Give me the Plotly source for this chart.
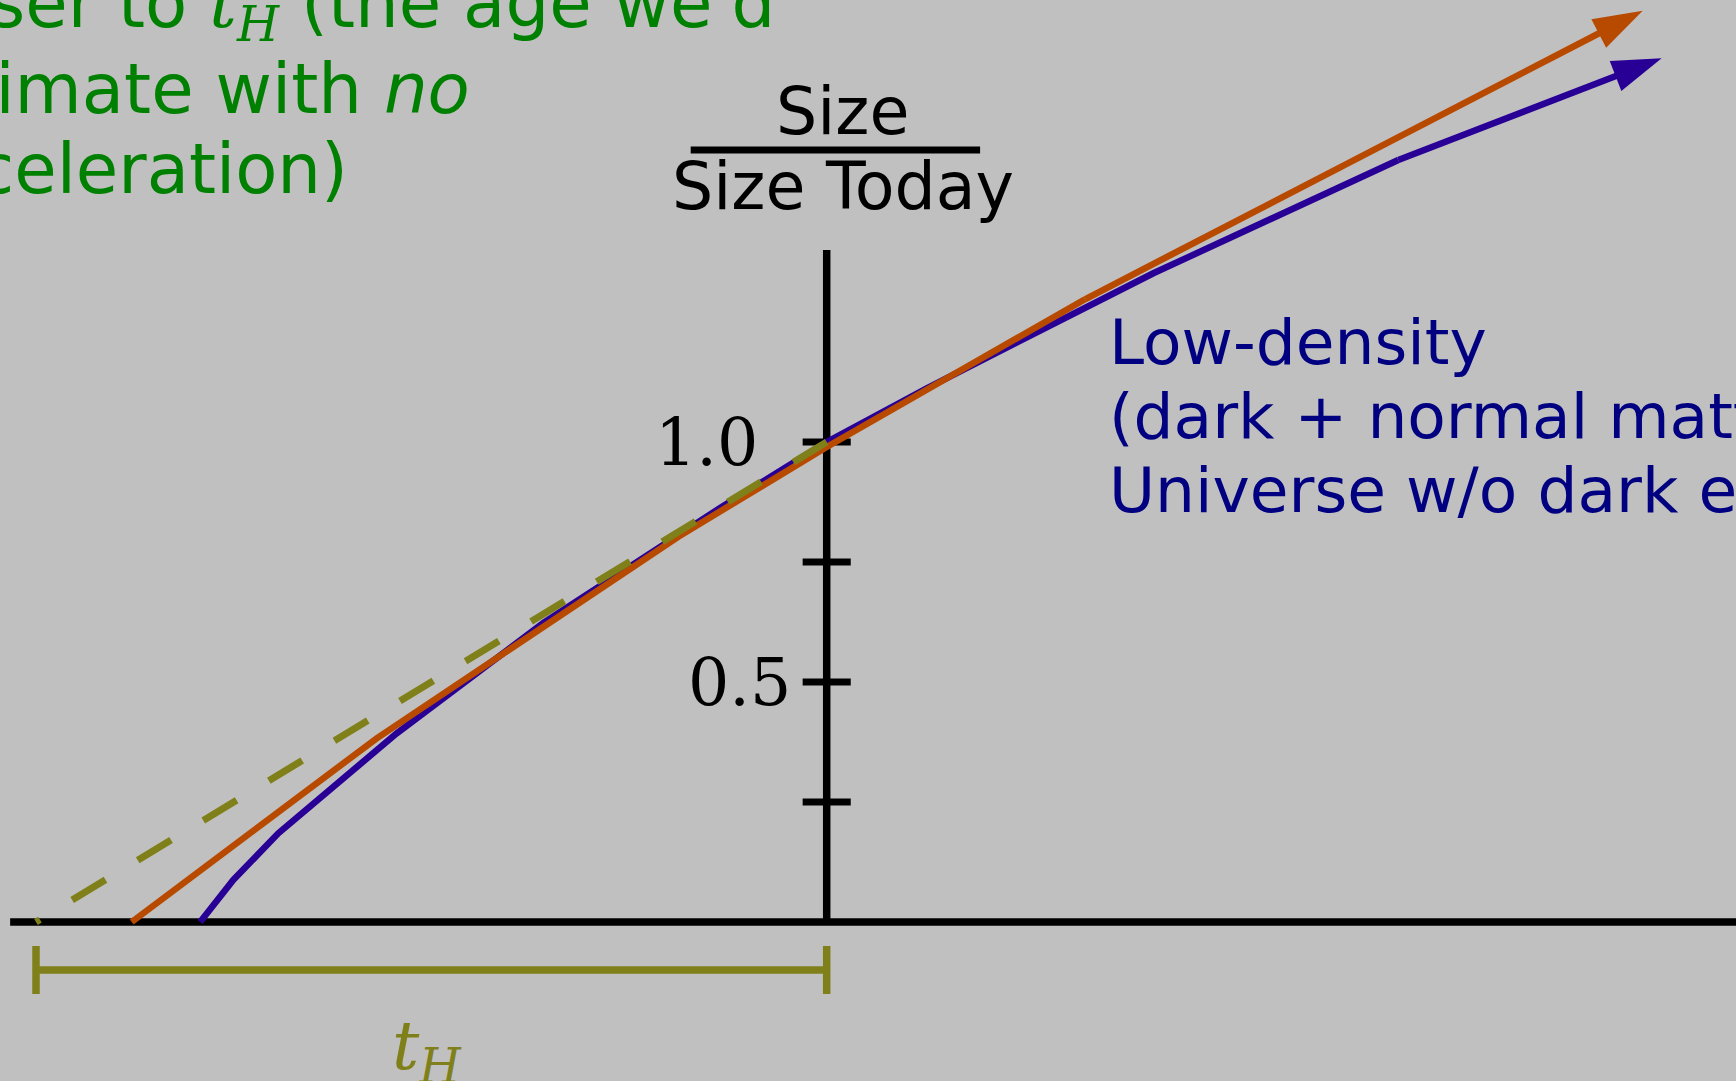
import plotly.graph_objects as go

# time in units of the Hubble time t_H (0 = today), size relative to today
low_density_t = [-0.7924, -0.7505, -0.6936, -0.5438, -0.3584, -0.1349, 0.0, 0.1265, 0.4131, 0.7229, 1.0560]
low_density_size = [0.0, 0.0875, 0.1848, 0.3931, 0.6229, 0.8625, 1.0, 1.1119, 1.3515, 1.5875, 1.7994]

accel_t = [-0.8790, -0.5691, -0.1877, 0.0, 0.3267, 1.0320]
accel_size = [0.0, 0.3827, 0.8027, 0.9896, 1.2973, 1.8985]

# constant expansion, drawn from today back to the start (dash starts at today)
coasting_t = [0.0, -1.0]
coasting_size = [1.0, 0.0]

size_ticks = [0.25, 0.5, 0.75, 1.0]
size_tick_vals = [0.5, 1.0]
size_tick_text = ["0.5", "1.0"]

t_h_span = [-1.0, 0.0]
time_axis = [-1.0327, 1.15]
size_axis_top = 1.4

BG = "#c0c0c0"
BLUE = "#280096"
ORANGE = "#b84a00"
OLIVE = "#80801a"
GREEN = "#008000"
NAVY = "#000080"
SANS = "DejaVu Sans"
SERIF = "DejaVu Serif"

fig = go.Figure()


def line(x, y, color, width, dash=None):
    fig.add_trace(go.Scatter(x=x, y=y, mode="lines", hoverinfo="skip",
                             line=dict(color=color, width=width, dash=dash)))


def arrow_curve(x, y, color):
    # body of the curve, then the last segment with an arrow marker at the tip
    line(x[:-1], y[:-1], color, 6.5)
    fig.add_trace(go.Scatter(
        x=x[-2:], y=y[-2:], mode="lines+markers", hoverinfo="skip",
        line=dict(color=color, width=6.5, backoff=24),
        marker=dict(symbol="arrow", size=[0, 52], angleref="previous",
                    color=color, opacity=1, line=dict(width=0)),
    ))


# axes
line(time_axis, [0, 0], "black", 7.5)
line([0, 0], [0, size_axis_top], "black", 7.5)
tx, ty = [], []
for v in size_ticks:
    tx += [-0.0304, 0.0304, None]
    ty += [v, v, None]
line(tx, ty, "black", 7)

# t_H bracket
bx = [t_h_span[0], t_h_span[1], None, t_h_span[0], t_h_span[0], None, t_h_span[1], t_h_span[1]]
by = [-0.1, -0.1, None, -0.05, -0.15, None, -0.05, -0.15]
line(bx, by, OLIVE, 7.5)

arrow_curve(low_density_t, low_density_size, BLUE)
arrow_curve(accel_t, accel_size, ORANGE)

line(coasting_t, coasting_size, OLIVE, 7, dash="39px,37.7px")

# tick labels
for v, txt, xpos in zip(size_tick_vals, size_tick_text, [-0.0439, -0.086]):
    fig.add_annotation(x=xpos, y=v, text=txt, showarrow=False, xanchor="right",
                       yanchor="middle", borderpad=0,
                       font=dict(family=SERIF, size=65, color="black"))

# y label as a fraction
fig.add_annotation(x=0.02, y=1.6885, text="Size", showarrow=False, borderpad=0,
                   font=dict(family=SANS, size=65, color="black"))
fig.add_annotation(x=0.02, y=1.5323, text="Size Today", showarrow=False, borderpad=0,
                   font=dict(family=SANS, size=65, color="black"))
fig.add_shape(type="line", x0=-0.172, x1=0.194, y0=1.6083, y1=1.6083,
              line=dict(color="black", width=7))

fig.add_annotation(x=-0.505, y=-0.266, text="<i>t<sub>H</sub></i>", showarrow=False,
                   borderpad=0, font=dict(family=SERIF, size=68, color=OLIVE))

navy_lines = ["Low-density", "(dark + normal matter)", "Universe w/o dark energy"]
for txt, yv in zip(navy_lines, [1.2073, 1.0525, 0.8990]):
    fig.add_annotation(x=0.3558, y=yv, text=txt, showarrow=False, xanchor="left",
                       borderpad=0, font=dict(family=SANS, size=63, color=NAVY))

tH = '<span style="font-family:DejaVu Serif"><i>t<sub>H</sub></i></span>'
green_lines = ["closer to " + tH + " (the age we'd", "estimate with <i>no</i>", "deceleration)"]
for txt, yv in zip(green_lines, [0.9929, 0.9173, 0.84385]):
    fig.add_annotation(x=-0.0639, y=yv, xref="paper", yref="paper", text=txt,
                       showarrow=False, xanchor="left", yanchor="middle", borderpad=0,
                       font=dict(family=SANS, size=69, color=GREEN))

fig.update_layout(
    width=1736, height=1081, margin=dict(l=0, r=0, t=0, b=0, pad=0),
    paper_bgcolor=BG, plot_bgcolor=BG, showlegend=False,
    xaxis=dict(range=[-1.04553, 1.15], visible=False, fixedrange=True),
    yaxis=dict(range=[-0.33125, 1.92083], visible=False, fixedrange=True),
)

fig.write_html("out.html", config={"displayModeBar": False},
               post_script="document.body.style.margin='0px';document.body.style.overflow='hidden';")
